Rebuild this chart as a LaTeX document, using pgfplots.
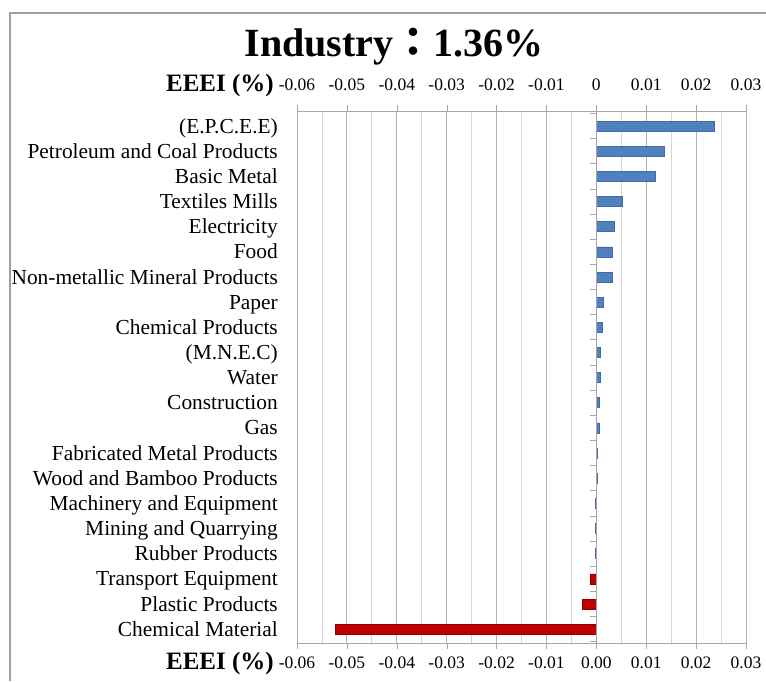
\documentclass[border=0pt]{standalone}
\usepackage{pgfplots}
\pgfplotsset{compat=1.18}
\usepackage{fontspec}
\setmainfont{Liberation Serif}
\newfontfamily\cjk{Noto Sans CJK TC}
\definecolor{barblue}{HTML}{4F81BD}
\definecolor{barblueedge}{HTML}{3C6DAA}
\definecolor{barred}{HTML}{C00000}
\definecolor{barrededge}{HTML}{8C0000}
\definecolor{gridmaj}{HTML}{B4B4B4}
\definecolor{gridmin}{HTML}{D6D6D6}
\definecolor{axgray}{HTML}{A6A6A6}
\definecolor{framegray}{HTML}{A0A0A0}
\pgfplotsset{
  mystyle/.style={
    scale only axis, width=449pt, height=532pt,
    at={(297pt,38pt)}, anchor=south west,
    xmin=-0.06, xmax=0.03, ymin=-0.55, ymax=20.6,
    xtick={-0.06,-0.05,-0.04,-0.03,-0.02,-0.01,0,0.01,0.02,0.03},
    scaled x ticks=false,
    tick align=outside, major tick length=6pt,
    xtick style={axgray},
  }
}
\begin{document}
\begin{tikzpicture}[x=1pt,y=1pt]
\path[use as bounding box] (0,0) rectangle (766,681);
\draw[line width=2pt, draw=framegray] (10,0) -- (10,668) -- (767,668);

\begin{axis}[mystyle,
  axis x line*=bottom, axis y line*=left,
  x axis line style={axgray,-},
  y axis line style={draw=none},
  xticklabels={-0.06,-0.05,-0.04,-0.03,-0.02,-0.01,0.00,0.01,0.02,0.03},
  minor xtick={-0.055,-0.045,-0.035,-0.025,-0.015,-0.005,0.005,0.015,0.025},
  minor tick length=0pt,
  xmajorgrids, xminorgrids,
  major grid style={gridmaj, line width=0.8pt},
  minor grid style={gridmin, line width=0.8pt},
  ytick={0,...,20},
  yticklabels={Chemical Material, Plastic Products, Transport Equipment, Rubber Products, Mining and Quarrying, Machinery and Equipment, Wood and Bamboo Products, Fabricated Metal Products, Gas, Construction, Water, (M.N.E.C), Chemical Products, Paper, Non-metallic Mineral Products, Food, Electricity, Textiles Mills, Basic Metal, Petroleum and Coal Products, (E.P.C.E.E)},
  ytick style={draw=none},
  yticklabel style={font=\fontsize{21.4}{23}\selectfont, anchor=base east, inner sep=0pt, xshift=-13pt, yshift=-7pt},
  xticklabel style={font=\fontsize{17.5}{20}\selectfont, inner sep=0pt, yshift=-8pt},
]
\addplot[xbar, bar width=10pt, bar shift=0pt, fill=barred, draw=barrededge, line width=0.6pt]
  coordinates {(-0.0523,0) (-0.0028,1) (-0.0012,2)};
\addplot[xbar, bar width=10pt, bar shift=0pt, fill=barblue, draw=barblueedge, line width=0.6pt]
  coordinates {(-0.0002,3) (-0.0002,4) (-0.0002,5) (0.0002,6) (0.0002,7) (0.0005,8) (0.0005,9) (0.0007,10) (0.0007,11) (0.0012,12) (0.0013,13) (0.0033,14) (0.0033,15) (0.0037,16) (0.0052,17) (0.0119,18) (0.0137,19) (0.0237,20)};
\draw[axgray, line width=0.8pt] (axis cs:0,-0.55) -- (axis cs:0,20.6);
\pgfplotsinvokeforeach{-0.5,0.5,...,20.5}{
  \draw[axgray, line width=0.8pt] (axis cs:0,#1) -- ++(-6pt,0pt);
}
\end{axis}

\begin{axis}[mystyle,
  axis x line*=top, axis y line=none,
  x axis line style={axgray,-},
  xticklabels={-0.06,-0.05,-0.04,-0.03,-0.02,-0.01,0,0.01,0.02,0.03},
  xticklabel style={font=\fontsize{17.5}{20}\selectfont, inner sep=0pt, yshift=14pt},
]
\addplot[draw=none] coordinates {(0,0)};
\end{axis}

\node[anchor=east, font=\bfseries\fontsize{25}{28}\selectfont, inner sep=0pt] at (274,596) {EEEI (\%)};
\node[anchor=east, font=\bfseries\fontsize{25}{28}\selectfont, inner sep=0pt] at (274,18) {EEEI (\%)};
\node[font=\bfseries\fontsize{40}{44}\selectfont, inner sep=0pt] at (394,634) {Industry{\cjk ：}1.36\%};
\end{tikzpicture}
\end{document}
